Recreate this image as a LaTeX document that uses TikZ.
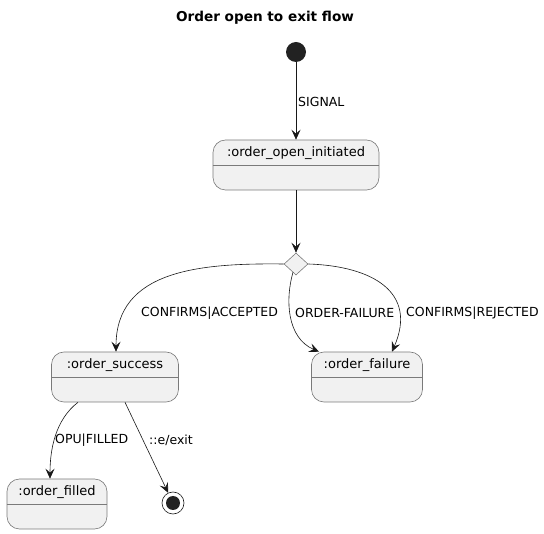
\documentclass[tikz,border=0pt]{standalone}
\usepackage{fontspec}
\setmainfont{DejaVu Sans}
\usepackage{tikz}
\usetikzlibrary{arrows.meta,positioning,calc,shapes.geometric}
\definecolor{line}{HTML}{181818}
\definecolor{border}{HTML}{7A7A7A}
\definecolor{statefill}{HTML}{F1F1F1}
\definecolor{dot}{HTML}{222222}
\tikzset{
  state/.style={draw=border, fill=statefill, rounded corners=12.5pt, line width=0.6pt,
                minimum height=50pt, inner sep=0pt},
  statename/.style={font=\fontsize{13}{15}\selectfont, text=black, inner sep=0pt},
  divider/.style={draw=border, line width=0.6pt},
  choice/.style={draw=border, fill=statefill, diamond, line width=0.6pt,
                 minimum width=24pt, minimum height=22pt, inner sep=0pt},
  flow/.style={-{Stealth[length=10pt,width=9pt,inset=4pt]}, line width=0.6pt, draw=line},
  edgelabel/.style={font=\fontsize{12.5}{14}\selectfont, anchor=west, inner sep=0pt}
}

\begin{document}
\begin{tikzpicture}[x=1pt,y=-1pt]
        \useasboundingbox (0,0) rectangle (544,534);
        \node[font=\bfseries\fontsize{13.6}{15}\selectfont] (title) at (265,18) {Order open to exit flow};

        % start and end
        \node[circle, fill=dot, minimum size=20pt, inner sep=0pt] (start) at (296,52) {};
        \node[circle, draw=line, line width=0.6pt, minimum size=22pt, inner sep=0pt] (stop) at (173,503) {};
        \fill[dot] (stop.center) circle (7);

        % states
        \node[state, minimum width=166pt] (open) at (296,165) {};
        \node[statename] (openname) at ([yshift=-13pt]open.north) {:order\_open\_initiated};
        \draw[divider] (open.west) -- (open.east);

        \node[choice] (pick) at (296,264) {};

        \node[state, minimum width=127pt] (success) at (115,377) {};
        \node[statename] (successname) at ([yshift=-13pt]success.north) {:order\_success};
        \draw[divider] (success.west) -- (success.east);

        \node[state, minimum width=111pt] (failure) at (367,377) {};
        \node[statename] (failurename) at ([yshift=-13pt]failure.north) {:order\_failure};
        \draw[divider] (failure.west) -- (failure.east);

        \node[state, minimum width=100pt] (filled) at (57,504) {};
        \node[statename] (filledname) at ([yshift=-13pt]filled.north) {:order\_filled};
        \draw[divider] (filled.west) -- (filled.east);

        % transitions
        \draw[flow] (start) -- (open.north);
        \node[edgelabel] (signal) at (298,102) {SIGNAL};
        \draw[flow] (open.south) -- (pick.north);

        \draw[flow] (pick.west) .. controls (200,263) and (116,270) .. ([xshift=1pt]success.north);
        \node[edgelabel] (accepted) at (141,313) {CONFIRMS|ACCEPTED};

        \draw[flow] ([xshift=-3pt,yshift=3pt]pick.south) .. controls (285,300) and (287,338) .. ([xshift=-48pt]failure.north);
        \node[edgelabel] (orderfail) at (295,313) {ORDER-FAILURE};

        \draw[flow] (pick.east) .. controls (372,266) and (418,292) .. ([xshift=25pt]failure.north);
        \node[edgelabel] (rejected) at (406,313) {CONFIRMS|REJECTED};

        \draw[flow] ([xshift=-37pt]success.south) .. controls (55,420) and (50,450) .. ([xshift=-7pt]filled.north);
        \node[edgelabel] (opufilled) at (55,440) {OPU|FILLED};

        \draw[flow] ([xshift=10pt]success.south) -- (stop);
        \node[edgelabel] (exit) at (149,440) {::e/exit};
\end{tikzpicture}
\end{document}
